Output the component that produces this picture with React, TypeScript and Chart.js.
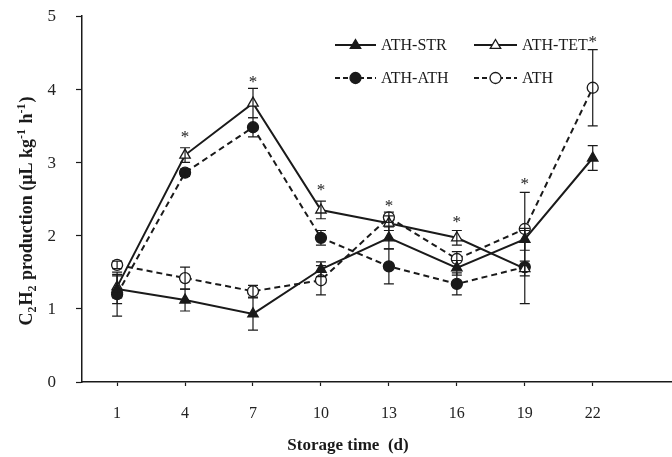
import React, { useEffect, useRef } from "react";
import { Chart, registerables } from "chart.js";

Chart.register(...registerables);

const days = [1, 4, 7, 10, 13, 16, 19, 22];
const strValues = [1.27, 1.12, 0.93, 1.54, 1.97, 1.56, 1.95, 3.06];
const strErrors = [0.2, 0.15, 0.22, 0.1, 0.15, 0.1, 0.15, 0.17];
const tetValues = [1.3, 3.1, 3.81, 2.35, 2.17, 1.97, 1.55, null];
const tetErrors = [0.15, 0.1, 0.2, 0.12, 0.1, 0.1, 0.1, null];
const athAthValues = [1.2, 2.86, 3.48, 1.97, 1.58, 1.34, 1.57, null];
const athAthErrors = [0.3, 0.05, 0.13, 0.1, 0.24, 0.15, 0.5, null];
const athValues = [1.6, 1.42, 1.24, 1.39, 2.25, 1.68, 2.09, 4.02];
const athErrors = [0.05, 0.15, 0.08, 0.2, 0.07, 0.1, 0.5, 0.52];
const starDays = [4, 7, 10, 13, 16, 19, 22];
const starLevels = [3.4, 4.15, 2.68, 2.46, 2.24, 2.76, 4.7];
const yTicks = [0, 1, 2, 3, 4, 5];

const INK = "#1a1a1a";
const SERIF = '"Liberation Serif", "Times New Roman", serif';

const seriesNames = ["ATH-STR", "ATH-TET", "ATH-ATH", "ATH"];

function toPoints(vals: (number | null)[]) {
  return days.map((d, i) => ({ x: d, y: vals[i] }));
}

const errorSets = [strErrors, tetErrors, athAthErrors, athErrors];
const valueSets = [strValues, tetValues, athAthValues, athValues];

const decorPlugin = {
  id: "decor",
  afterDatasetsDraw(chart: any) {
    const ctx = chart.ctx;
    const xs = chart.scales.x;
    const ys = chart.scales.y;
    ctx.save();
    // y tick labels
    ctx.fillStyle = "#222";
    ctx.font = "17px " + SERIF;
    ctx.textAlign = "right";
    ctx.textBaseline = "middle";
    yTicks.forEach((v) => {
      ctx.fillText(String(v), 56, ys.getPixelForValue(v) + 1);
    });
    // error bars
    ctx.strokeStyle = INK;
    ctx.lineWidth = 1.2;
    ctx.setLineDash([]);
    valueSets.forEach((vals, si) => {
      const errs = errorSets[si];
      vals.forEach((v, i) => {
        const e = errs[i];
        if (v == null || e == null) return;
        const px = xs.getPixelForValue(days[i]);
        const yTop = ys.getPixelForValue(v + e);
        const yBot = ys.getPixelForValue(v - e);
        ctx.beginPath();
        ctx.moveTo(px, yTop);
        ctx.lineTo(px, yBot);
        ctx.moveTo(px - 5, yTop);
        ctx.lineTo(px + 5, yTop);
        ctx.moveTo(px - 5, yBot);
        ctx.lineTo(px + 5, yBot);
        ctx.stroke();
      });
    });
    // stars
    ctx.fillStyle = INK;
    ctx.font = "17px " + SERIF;
    ctx.textAlign = "center";
    ctx.textBaseline = "alphabetic";
    starDays.forEach((d, i) => {
      const px = xs.getPixelForValue(d);
      const py = ys.getPixelForValue(starLevels[i]);
      ctx.fillText("*", px, py + 9);
    });
    // legend
    const drawMarker = (type: string, filled: boolean, cx: number, cy: number, r: number) => {
      ctx.beginPath();
      if (type === "triangle") {
        ctx.moveTo(cx, cy - r);
        ctx.lineTo(cx + r * 0.95, cy + r * 0.6);
        ctx.lineTo(cx - r * 0.95, cy + r * 0.6);
        ctx.closePath();
      } else {
        ctx.arc(cx, cy, r, 0, Math.PI * 2);
      }
      ctx.fillStyle = filled ? INK : "#ffffff";
      ctx.fill();
      ctx.lineWidth = 1.3;
      ctx.setLineDash([]);
      ctx.stroke();
    };
    const entries = [
      { x0: 335, x1: 376, y: 45, dash: false, type: "triangle", filled: true },
      { x0: 474, x1: 517, y: 45, dash: false, type: "triangle", filled: false },
      { x0: 335, x1: 376, y: 78, dash: true, type: "circle", filled: true },
      { x0: 474, x1: 517, y: 78, dash: true, type: "circle", filled: false },
    ];
    entries.forEach((en, i) => {
      ctx.strokeStyle = INK;
      ctx.lineWidth = 2;
      ctx.setLineDash(en.dash ? [5, 3] : []);
      ctx.beginPath();
      ctx.moveTo(en.x0, en.y);
      ctx.lineTo(en.x1, en.y);
      ctx.stroke();
      drawMarker(en.type, en.filled, (en.x0 + en.x1) / 2, en.y, 5.5);
      ctx.fillStyle = INK;
      ctx.font = "16px " + SERIF;
      ctx.textAlign = "left";
      ctx.textBaseline = "middle";
      ctx.fillText(seriesNames[i], en.x1 + 5, en.y + 1);
    });
    // x title
    ctx.font = "bold 17px " + SERIF;
    ctx.textAlign = "center";
    ctx.textBaseline = "middle";
    ctx.fillStyle = INK;
    ctx.fillText("Storage time  (d)", 348, 446);
    // y title with sub/superscripts
    const segs = [
      { t: "C", k: 0 },
      { t: "2", k: 1 },
      { t: "H", k: 0 },
      { t: "2", k: 1 },
      { t: " production (\u03bcL kg", k: 0 },
      { t: "-1", k: 2 },
      { t: " h", k: 0 },
      { t: "-1", k: 2 },
      { t: ")", k: 0 },
    ];
    const fontFor = (k: number) => (k === 0 ? "bold 18px " : "bold 12px ") + SERIF;
    let total = 0;
    segs.forEach((s) => {
      ctx.font = fontFor(s.k);
      total += ctx.measureText(s.t).width + (s.k ? 1 : 0);
    });
    ctx.translate(32, 211);
    ctx.rotate(-Math.PI / 2);
    ctx.textAlign = "left";
    ctx.textBaseline = "alphabetic";
    let cx = -total / 2;
    segs.forEach((s) => {
      ctx.font = fontFor(s.k);
      const dy = s.k === 1 ? 4 : s.k === 2 ? -7 : 0;
      ctx.fillText(s.t, cx, dy);
      cx += ctx.measureText(s.t).width + (s.k ? 1 : 0);
    });
    ctx.restore();
  },
};

export default function App() {
  const ref = useRef<HTMLCanvasElement | null>(null);
  useEffect(() => {
    if (!ref.current) return;
    const common = {
      borderColor: INK,
      borderWidth: 2,
      pointBorderColor: INK,
      pointBorderWidth: 1.3,
      pointRadius: 5.5,
      pointHoverRadius: 5.5,
      spanGaps: false,
      tension: 0,
    };
    const chart = new Chart(ref.current, {
      type: "line",
      data: {
        datasets: [
          { ...common, label: seriesNames[0], data: toPoints(strValues), pointStyle: "triangle", pointBackgroundColor: INK, pointRadius: 6 },
          { ...common, label: seriesNames[1], data: toPoints(tetValues), pointStyle: "triangle", pointBackgroundColor: "#ffffff", pointRadius: 6 },
          { ...common, label: seriesNames[2], data: toPoints(athAthValues), pointStyle: "circle", pointBackgroundColor: INK, borderDash: [6, 4] },
          { ...common, label: seriesNames[3], data: toPoints(athValues), pointStyle: "circle", pointBackgroundColor: "#ffffff", borderDash: [6, 4] },
        ],
      } as any,
      options: {
        animation: false,
        responsive: false,
        maintainAspectRatio: false,
        layout: { autoPadding: false, padding: { top: 16, right: 0, left: 0, bottom: 0 } },
        plugins: { legend: { display: false }, tooltip: { enabled: false } },
        scales: {
          x: {
            type: "linear",
            min: -0.55,
            max: 25.5,
            afterBuildTicks: (axis: any) => {
              axis.ticks = days.map((v) => ({ value: v }));
            },
            afterFit: (axis: any) => {
              axis.height = 75;
            },
            border: { display: true, color: INK, width: 1.5 },
            grid: { display: true, drawOnChartArea: false, drawTicks: true, tickLength: 4, tickColor: INK, tickWidth: 1.2 },
            ticks: { color: "#222", font: { family: SERIF, size: 16 }, padding: 18, maxRotation: 0, autoSkip: false },
          },
          y: {
            type: "linear",
            min: 0,
            max: 5,
            afterBuildTicks: (axis: any) => {
              axis.ticks = yTicks.map((v) => ({ value: v }));
            },
            afterFit: (axis: any) => {
              axis.width = 82;
            },
            border: { display: true, color: INK, width: 1.5 },
            grid: { display: true, drawOnChartArea: false, drawTicks: true, tickLength: 6, tickColor: INK, tickWidth: 1.2 },
            ticks: { display: false, padding: 0 },
          },
        },
      } as any,
      plugins: [decorPlugin],
    });
    return () => chart.destroy();
  }, []);
  return (
    <div style={{ position: "fixed", left: 0, top: 0, width: 672, height: 457, background: "#fff" }}>
      <canvas ref={ref} width={672} height={457} style={{ width: 672, height: 457, display: "block" }} />
    </div>
  );
}
